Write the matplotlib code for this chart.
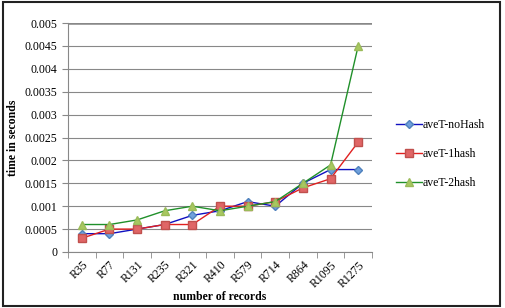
import matplotlib
matplotlib.use('Agg')
import matplotlib.pyplot as plt
from matplotlib.patches import Rectangle
import numpy as np

# Data
categories = ['R35', 'R77', 'R131', 'R235', 'R321', 'R410', 'R579', 'R714', 'R864', 'R1095', 'R1275']
no_hash = [0.0004, 0.0004, 0.0005, 0.0006, 0.0008, 0.0009, 0.0011, 0.0010, 0.0015, 0.0018, 0.0018]
one_hash = [0.0003, 0.0005, 0.0005, 0.0006, 0.0006, 0.0010, 0.0010, 0.0011, 0.0014, 0.0016, 0.0024]
two_hash = [0.0006, 0.0006, 0.0007, 0.0009, 0.0010, 0.0009, 0.0010, 0.0011, 0.0015, 0.0019, 0.0045]
y_ticks = [0, 0.0005, 0.001, 0.0015, 0.002, 0.0025, 0.003, 0.0035, 0.004, 0.0045, 0.005]
y_tick_labels = ['0', '0.0005', '0.001', '0.0015', '0.002', '0.0025', '0.003', '0.0035', '0.004', '0.0045', '0.005']

plt.rcParams['font.family'] = ['Liberation Serif', 'DejaVu Serif']

fig = plt.figure(figsize=(5.05, 3.08), dpi=100)
ax = fig.add_axes([68 / 505, 1 - 252 / 308, (372 - 68) / 505, (252 - 23) / 308])

x = np.arange(len(categories))
ax.plot(x, no_hash, color='#1010c0', lw=1, marker='D', ms=4.5,
        mfc='#6fa0dc', mec='#4f81bd', label='aveT-noHash', zorder=3)
ax.plot(x, one_hash, color='#e02020', lw=1, marker='s', ms=6,
        mfc='#e06666', mec='#c0504d', label='aveT-1hash', zorder=3)
ax.plot(x, two_hash, color='#20902a', lw=1, marker='^', ms=6,
        mfc='#a8c860', mec='#9bbb59', label='aveT-2hash', zorder=3)

ax.set_xlim(-0.5, len(categories) - 0.5)
ax.set_ylim(0, 0.005)
ax.set_yticks(y_ticks)
ax.set_yticklabels(y_tick_labels, fontsize=8.5)
ax.set_xticks(x)
ax.set_xticklabels(categories, rotation=45, ha='right', rotation_mode='anchor', fontsize=8.5)
ax.tick_params(axis='x', length=0, pad=5)
ax.set_xticks(np.arange(len(categories) + 1) - 0.5, minor=True)
ax.tick_params(axis='x', which='minor', length=4, color='#888888')
ax.tick_params(axis='y', length=4, color='#888888')

ax.grid(axis='y', color='#888888', lw=0.8)
ax.set_axisbelow(True)
for s in ['top', 'right']:
    ax.spines[s].set_visible(False)
ax.spines['left'].set_color('#888888')
ax.spines['bottom'].set_color('#888888')
ax.axhline(0.005, color='#888888', lw=1.8, zorder=1)

ax.set_ylabel('time in seconds', fontsize=8.5, fontweight='bold')
ax.set_xlabel('number of records', fontsize=8.5, fontweight='bold', labelpad=1)

ax.legend(loc='center left', bbox_to_anchor=(385 / 505, 0.5), bbox_transform=fig.transFigure,
          frameon=False, fontsize=8.5, handlelength=2.2, labelspacing=1.45, handletextpad=0.1)

fig.patches.append(Rectangle((0.006, 0.008), 0.985, 0.985, transform=fig.transFigure,
                             fill=False, ec='#222222', lw=1.5))

fig.savefig('out.png', dpi=100)
